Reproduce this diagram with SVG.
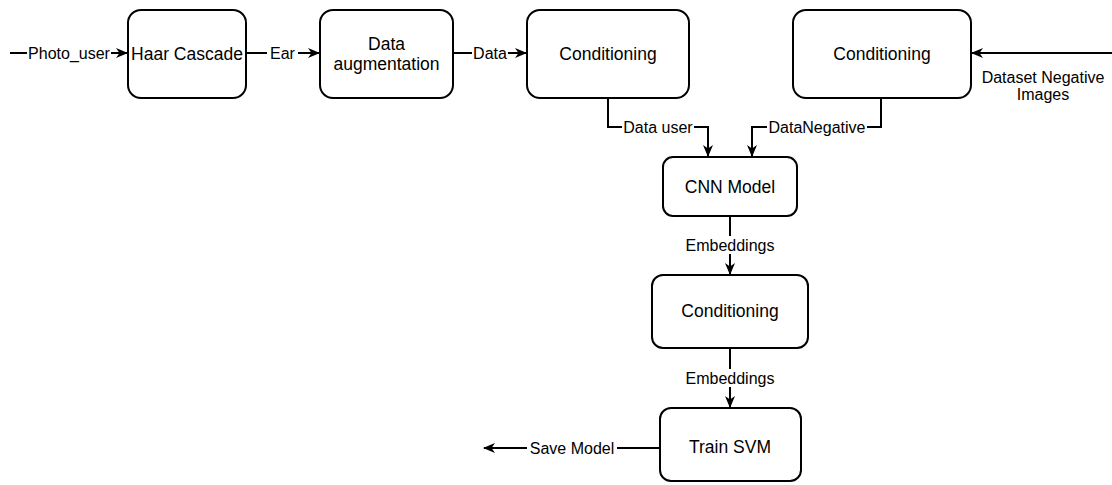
<svg xmlns="http://www.w3.org/2000/svg" width="1112" height="485" viewBox="0 0 1112 485">
  <style>
    .node rect { fill: #ffffff; stroke: #000000; stroke-width: 2; }
    .node text { font-family: "Liberation Sans", Arial, sans-serif; font-size: 17.5px; fill: #000000; text-anchor: middle; dominant-baseline: central; }
    .edge { fill: none; stroke: #000000; stroke-width: 2; }
    .lbl { font-family: "Liberation Sans", Arial, sans-serif; font-size: 16px; fill: #000000; text-anchor: middle; dominant-baseline: central; }
    .lblbg { fill: #ffffff; }
  </style>
  <defs>
    <marker id="arrow" viewBox="0 0 12 12" refX="11" refY="6" markerWidth="12" markerHeight="12" markerUnits="userSpaceOnUse" orient="auto">
      <path d="M0,1 L12,6 L0,11 L3.5,6 Z" fill="#000000"/>
    </marker>
  </defs>

  <!-- connectors -->
  <g id="connectors">
    <path class="edge" d="M10,53 H127" marker-end="url(#arrow)"/>
    <path class="edge" d="M246,53 H319" marker-end="url(#arrow)"/>
    <path class="edge" d="M453,53 H526" marker-end="url(#arrow)"/>
    <path class="edge" d="M1112,53 H972" marker-end="url(#arrow)"/>
    <path class="edge" d="M608,98 V127 H708 V156" marker-end="url(#arrow)"/>
    <path class="edge" d="M881,98 V127 H752 V156" marker-end="url(#arrow)"/>
    <path class="edge" d="M730,216 V274" marker-end="url(#arrow)"/>
    <path class="edge" d="M730,348 V407" marker-end="url(#arrow)"/>
    <path class="edge" d="M660,448 H484" marker-end="url(#arrow)"/>

    <!-- edge labels -->
    <rect class="lblbg" x="27" y="44" width="84" height="18"/>
    <text class="lbl" x="69" y="53">Photo_user</text>
    <rect class="lblbg" x="267" y="44" width="31" height="18"/>
    <text class="lbl" x="282.5" y="53">Ear</text>
    <rect class="lblbg" x="472" y="44" width="36" height="18"/>
    <text class="lbl" x="490" y="53">Data</text>
    <text class="lbl" x="1043" y="77">Dataset Negative</text>
    <text class="lbl" x="1043" y="94">Images</text>
    <rect class="lblbg" x="622" y="118" width="72" height="18"/>
    <text class="lbl" x="658" y="127">Data user</text>
    <rect class="lblbg" x="767" y="118" width="100" height="18"/>
    <text class="lbl" x="817" y="127">DataNegative</text>
    <rect class="lblbg" x="685" y="236" width="90" height="18"/>
    <text class="lbl" x="730" y="245">Embeddings</text>
    <rect class="lblbg" x="685" y="369" width="90" height="18"/>
    <text class="lbl" x="730" y="378">Embeddings</text>
    <rect class="lblbg" x="527" y="439" width="90" height="18"/>
    <text class="lbl" x="572" y="448">Save Model</text>
  </g>

  <!-- nodes -->
  <g id="haar" class="node">
    <rect x="128" y="10" width="118" height="88" rx="13"/>
    <text x="187" y="54">Haar Cascade</text>
  </g>
  <g id="augmentation" class="node">
    <rect x="320" y="10" width="133" height="88" rx="13"/>
    <text x="386.5" y="44">Data</text>
    <text x="386.5" y="64">augmentation</text>
  </g>
  <g id="conditioning-user" class="node">
    <rect x="527" y="10" width="162" height="88" rx="13"/>
    <text x="608" y="54">Conditioning</text>
  </g>
  <g id="conditioning-negative" class="node">
    <rect x="793" y="10" width="178" height="88" rx="13"/>
    <text x="882" y="54">Conditioning</text>
  </g>
  <g id="cnn" class="node">
    <rect x="663" y="157" width="134" height="59" rx="10"/>
    <text x="730" y="187">CNN Model</text>
  </g>
  <g id="conditioning-embeddings" class="node">
    <rect x="652" y="275" width="156" height="73" rx="11"/>
    <text x="730" y="311">Conditioning</text>
  </g>
  <g id="svm" class="node">
    <rect x="660" y="408" width="141" height="73" rx="11"/>
    <text x="730" y="447">Train SVM</text>
  </g>
</svg>
